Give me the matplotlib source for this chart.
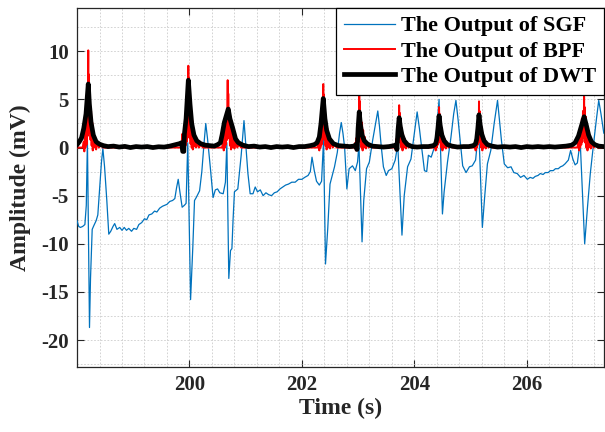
import matplotlib
matplotlib.use("Agg")
import matplotlib.pyplot as plt
from matplotlib.ticker import MultipleLocator

plt.rcParams['font.family'] = ['Liberation Serif', 'DejaVu Serif']
plt.rcParams['font.weight'] = 'bold'
plt.rcParams['axes.unicode_minus'] = False

# ---- data ----
sgf_t = [198.00, 198.03, 198.06, 198.10, 198.14, 198.165, 198.185, 198.222, 198.24, 198.27,
         198.30, 198.34, 198.37, 198.40, 198.435, 198.46, 198.49, 198.53, 198.565, 198.60,
         198.64, 198.67, 198.71, 198.76, 198.80, 198.84, 198.88, 198.92, 198.97, 199.01,
         199.06, 199.10, 199.15, 199.20, 199.24, 199.28, 199.33, 199.38, 199.42, 199.47,
         199.52, 199.56, 199.60, 199.65, 199.70, 199.74, 199.77, 199.80, 199.83, 199.87,
         199.91, 199.94, 199.97, 200.02, 200.06, 200.09, 200.12, 200.18, 200.22, 200.26,
         200.29, 200.32, 200.37, 200.42, 200.46, 200.50, 200.54, 200.60, 200.64, 200.665,
         200.70, 200.73, 200.755, 200.775, 200.80, 200.86, 200.92, 200.97, 201.00, 201.04,
         201.08, 201.13, 201.17, 201.21, 201.26, 201.31, 201.36, 201.41, 201.46, 201.51,
         201.56, 201.61, 201.66, 201.71, 201.76, 201.82, 201.88, 201.94, 202.00, 202.05,
         202.11, 202.15, 202.18, 202.22, 202.26, 202.31, 202.35, 202.385, 202.42, 202.46,
         202.50, 202.54, 202.58, 202.63, 202.67, 202.70, 202.73, 202.76, 202.80, 202.84,
         202.90, 202.95, 202.99, 203.015, 203.07, 203.10, 203.15, 203.20, 203.26, 203.31,
         203.35, 203.38, 203.41, 203.45, 203.50, 203.54, 203.60, 203.66, 203.705, 203.78,
         203.82, 203.88, 203.94, 203.99, 204.05, 204.09, 204.12, 204.18, 204.22, 204.25,
         204.30, 204.35, 204.40, 204.44, 204.50, 204.53, 204.59, 204.65, 204.70, 204.74,
         204.78, 204.82, 204.86, 204.92, 204.98, 205.03, 205.09, 205.145, 205.21, 205.25,
         205.30, 205.36, 205.42, 205.48, 205.52, 205.55, 205.60, 205.66, 205.72, 205.77,
         205.83, 205.89, 205.95, 206.01, 206.06, 206.11, 206.15, 206.20, 206.24, 206.29,
         206.33, 206.38, 206.42, 206.47, 206.51, 206.56, 206.60, 206.64, 206.68, 206.74,
         206.78, 206.82, 206.86, 206.90, 206.95, 207.03, 207.08, 207.13, 207.19, 207.24,
         207.28, 207.32, 207.37]
sgf_v = [-7.6, -8.2, -8.3, -8.2, -8.0, -6.0, 0.8, -18.7, -13.6, -8.5,
         -8.1, -7.6, -7.0, -4.5, -1.5, -0.1, -2.0, -5.5, -9.0, -8.7,
         -8.2, -7.9, -8.5, -8.3, -8.6, -8.3, -8.6, -8.4, -8.7, -8.4,
         -8.5, -8.0, -7.8, -7.4, -7.5, -7.0, -6.9, -6.6, -6.7, -6.3,
         -6.1, -6.0, -5.9, -5.6, -5.5, -5.3, -4.2, -3.3, -4.6, -6.2,
         -6.0, -5.8, 0.5, -15.8, -10.3, -5.5, -5.2, -4.5, -2.5, 0.5,
         2.5, 1.0, -2.0, -5.2, -4.4, -4.3, -4.7, -4.8, -3.6, 0.5,
         -13.6, -10.7, -10.5, -7.6, -4.6, -4.3, -0.8, 2.8, 0.5, -2.7,
         -4.8, -4.8, -4.1, -4.6, -4.4, -5.0, -4.7, -4.9, -5.0, -4.7,
         -4.6, -4.3, -4.1, -3.9, -3.8, -3.6, -3.6, -3.3, -3.3, -3.1,
         -2.9, -2.5, -1.0, -2.4, -3.5, -3.9, -3.5, 0.8, -12.1, -8.4,
         -3.8, -2.9, -2.0, -0.5, 1.5, 2.6, 1.5, 0.0, -4.3, -2.2,
         -1.9, -2.4, -1.5, 0.3, -9.8, -5.5, -2.2, -1.5, 0.8, 2.5,
         3.8, 2.2, 0.2, -2.0, -2.9, -2.4, -2.2, -1.3, 0.3, -9.1,
         -5.0, -2.0, -1.2, 1.0, 3.7, 2.0, 0.5, -2.4, -2.5, -0.8,
         -1.0, -0.1, 2.0, 5.0, -6.9, -4.6, -1.5, 1.0, 3.5, 4.9,
         2.8, 0.5, -1.9, -2.6, -2.0, -1.9, -1.3, 2.0, -8.3, -5.2,
         -1.7, -0.3, 2.5, 4.9, 2.5, 0.7, -1.7, -2.1, -2.0, -2.6,
         -2.7, -3.1, -2.9, -3.3, -3.1, -3.2, -3.0, -2.9, -2.7, -2.8,
         -2.6, -2.6, -2.4, -2.4, -2.2, -2.2, -2.0, -1.9, -1.7, -1.3,
         -0.3, -1.2, -1.8, -1.6, 0.7, -10.0, -6.2, -2.7, 0.5, 3.0,
         4.9, 3.5, 1.5]

bpf_t = [198.00, 198.10, 198.12, 198.13, 198.14, 198.15, 198.16, 198.17, 198.18, 198.19,
         198.20, 198.205, 198.21, 198.22, 198.23, 198.24, 198.25, 198.26, 198.27, 198.28,
         198.29, 198.30, 198.32, 198.34, 198.36, 198.39, 198.42, 198.46,
         199.86, 199.87, 199.88, 199.90, 199.91, 199.92, 199.93, 199.94, 199.95, 199.96,
         199.97, 199.98, 199.985, 199.99, 200.00, 200.01, 200.02, 200.03, 200.04, 200.05,
         200.06, 200.07, 200.08, 200.10, 200.12, 200.14, 200.17, 200.20, 200.24,
         200.58, 200.60, 200.61, 200.62, 200.63, 200.64, 200.65, 200.66, 200.67, 200.68,
         200.685, 200.69, 200.70, 200.71, 200.72, 200.73, 200.74, 200.75, 200.76, 200.78,
         200.80, 200.82, 200.85, 200.88, 200.92,
         202.28, 202.30, 202.31, 202.32, 202.33, 202.34, 202.35, 202.36, 202.37, 202.38,
         202.385, 202.39, 202.40, 202.41, 202.42, 202.43, 202.44, 202.45, 202.46, 202.48,
         202.50, 202.52, 202.55, 202.58, 202.62,
         202.93, 202.95, 202.96, 202.97, 202.98, 202.99, 203.00, 203.01, 203.015, 203.02,
         203.025, 203.03, 203.04, 203.05, 203.06, 203.07, 203.08, 203.09, 203.10, 203.12,
         203.14, 203.16, 203.19, 203.22, 203.26,
         203.64, 203.66, 203.67, 203.68, 203.69, 203.70, 203.71, 203.72, 203.725, 203.73,
         203.735, 203.74, 203.75, 203.76, 203.77, 203.78, 203.79, 203.80, 203.81, 203.83,
         203.85, 203.87, 203.90, 203.93, 203.97,
         204.35, 204.37, 204.38, 204.39, 204.40, 204.41, 204.42, 204.43, 204.435, 204.44,
         204.445, 204.45, 204.46, 204.47, 204.48, 204.49, 204.50, 204.51, 204.52, 204.54,
         204.56, 204.58, 204.61, 204.64, 204.68,
         205.06, 205.08, 205.09, 205.10, 205.11, 205.12, 205.13, 205.14, 205.145, 205.15,
         205.155, 205.16, 205.17, 205.18, 205.19, 205.20, 205.21, 205.22, 205.23, 205.25,
         205.27, 205.29, 205.32, 205.35, 205.39,
         206.90, 206.92, 206.93, 206.94, 206.95, 206.96, 206.97, 206.98, 206.99, 207.00,
         207.01, 207.02, 207.025, 207.03, 207.04, 207.05, 207.06, 207.07, 207.08, 207.09,
         207.10, 207.12, 207.14, 207.16, 207.19, 207.22, 207.26, 207.37]
bpf_v = [0.0, 0.0, 0.6, -0.4, 1.5, 0.0, 2.8, 0.3, 4.8, 1.2,
         10.1, 3.0, 7.6, 1.5, 5.0, 0.8, 3.8, 0.2, 2.6, -0.3,
         1.5, 0.0, 0.8, -0.2, 0.5, 0.0, 0.3, 0.0,
         0.0, 1.4, -0.3, 0.8, -0.5, 2.0, 0.2, 3.5, 0.6, 5.0,
         1.5, 8.5, 4.0, 7.2, 1.0, 4.8, 0.4, 3.6, 0.0, 2.8,
         -0.2, 2.0, 0.1, 1.2, 0.0, 0.6, 0.0, 0.3, 0.0,
         0.0, 0.7, -0.3, 1.2, 0.0, 2.0, 0.3, 3.2, 0.8, 7.0,
         2.5, 5.6, 1.0, 3.8, 0.2, 3.0, -0.2, 2.3, 0.0, 1.5,
         -0.1, 0.8, 0.0, 0.3, 0.0,
         0.0, 0.6, -0.3, 1.0, 0.0, 2.0, 0.3, 3.5, 0.8, 6.6,
         2.0, 5.5, 0.8, 3.6, 0.2, 2.8, -0.2, 2.0, 0.0, 1.2,
         -0.1, 0.6, 0.0, 0.3, 0.0,
         0.0, 0.5, -0.3, 1.0, 0.0, 2.0, 0.4, 3.5, 1.0, 6.0,
         2.0, 4.8, 0.6, 3.4, 0.0, 2.6, -0.3, 1.8, 0.0, 1.1,
         -0.1, 0.5, 0.0, 0.2, 0.0,
         0.0, 0.4, -0.3, 0.9, 0.0, 1.6, 0.3, 2.8, 0.8, 4.4,
         1.5, 3.6, 0.5, 2.6, 0.0, 2.0, -0.3, 1.4, 0.0, 0.9,
         -0.1, 0.4, 0.0, 0.2, 0.0,
         0.0, 0.4, -0.3, 0.9, 0.0, 1.6, 0.3, 2.9, 0.8, 4.2,
         1.5, 3.5, 0.5, 2.6, 0.0, 2.0, -0.3, 1.4, 0.0, 0.9,
         -0.1, 0.4, 0.0, 0.2, 0.0,
         0.0, 0.4, -0.3, 1.0, 0.0, 1.8, 0.3, 3.0, 0.8, 4.8,
         1.5, 3.8, 0.5, 2.8, 0.0, 2.1, -0.3, 1.5, 0.0, 0.9,
         -0.1, 0.4, 0.0, 0.2, 0.0,
         0.0, 0.6, -0.3, 1.2, 0.0, 2.0, 0.3, 3.0, 0.6, 3.8,
         1.0, 5.3, 1.8, 4.2, 0.5, 3.2, 0.0, 2.4, -0.3, 1.6,
         0.0, 1.0, -0.1, 0.5, 0.0, 0.2, 0.0, 0.0]

dwt_t = [198.00, 198.04, 198.08, 198.12, 198.16, 198.20, 198.22, 198.25, 198.29, 198.34,
         198.40, 198.47, 198.55, 198.65, 198.75, 198.85, 198.95, 199.05, 199.15, 199.25,
         199.35, 199.45, 199.55, 199.65, 199.75, 199.82, 199.86, 199.88, 199.90, 199.91,
         199.94, 199.98, 200.01, 200.04, 200.08, 200.13, 200.20, 200.28, 200.36, 200.44,
         200.50, 200.55, 200.58, 200.62, 200.69, 200.72, 200.77, 200.82, 200.87, 200.95,
         201.05, 201.15, 201.25, 201.35, 201.45, 201.55, 201.65, 201.75, 201.85, 201.95,
         202.05, 202.15, 202.22, 202.27, 202.31, 202.34, 202.38, 202.41, 202.44, 202.49,
         202.56, 202.65, 202.75, 202.85, 202.93, 202.96, 202.98, 202.99, 203.00, 203.02,
         203.04, 203.07, 203.11, 203.17, 203.25, 203.35, 203.45, 203.55, 203.64, 203.68,
         203.69, 203.70, 203.71, 203.73, 203.75, 203.78, 203.82, 203.88, 203.96, 204.05,
         204.15, 204.25, 204.34, 204.38, 204.40, 204.42, 204.44, 204.46, 204.49, 204.53,
         204.59, 204.67, 204.77, 204.87, 204.97, 205.05, 205.09, 205.11, 205.13, 205.15,
         205.17, 205.20, 205.24, 205.30, 205.38, 205.48, 205.60, 205.70, 205.80, 205.90,
         206.00, 206.10, 206.20, 206.30, 206.40, 206.50, 206.60, 206.70, 206.80, 206.86,
         206.92, 206.97, 207.02, 207.06, 207.10, 207.15, 207.21, 207.28, 207.37]
dwt_v = [0.3, 0.6, 1.0, 2.0, 3.5, 6.6, 4.5, 2.6, 1.3, 0.6,
         0.35, 0.2, 0.1, 0.15, 0.05, 0.12, 0.0, 0.1, 0.05, 0.1,
         0.0, 0.08, 0.05, 0.15, 0.3, 0.4, 0.5, -0.4, -0.4, 1.4,
         3.0, 7.0, 4.5, 2.5, 1.3, 0.7, 0.4, 0.25, 0.2, 0.15,
         0.3, 0.5, 1.3, 2.6, 4.0, 3.0, 2.0, 0.9, 0.5, 0.25,
         0.1, 0.15, 0.05, 0.1, 0.0, 0.1, 0.05, 0.1, 0.0, 0.1,
         0.1, 0.2, 0.3, 0.5, 1.1, 2.5, 5.1, 3.0, 1.8, 0.9,
         0.4, 0.2, 0.15, 0.1, 0.15, 0.3, -0.2, 0.6, 2.0, 3.7,
         2.4, 1.3, 0.7, 0.35, 0.15, 0.1, 0.05, 0.1, 0.2, 0.3,
         -0.2, 0.8, 1.8, 3.1, 2.2, 1.3, 0.7, 0.3, 0.1, 0.05,
         0.1, 0.1, 0.2, 0.4, 0.9, 2.0, 3.3, 2.3, 1.3, 0.7,
         0.3, 0.15, 0.05, 0.1, 0.1, 0.2, 0.4, 0.9, 2.0, 3.4,
         2.4, 1.4, 0.7, 0.3, 0.15, 0.05, 0.1, 0.05, 0.1, 0.0,
         0.1, 0.05, 0.1, 0.05, 0.1, 0.05, 0.1, 0.15, 0.25, 0.5,
         1.2, 2.2, 3.2, 2.3, 1.3, 0.6, 0.3, 0.15, 0.1]

labels = ['The Output of SGF', 'The Output of BPF', 'The Output of DWT']
x_ticks = [200, 202, 204, 206]
y_ticks = [-20, -15, -10, -5, 0, 5, 10]

# ---- figure ----
fig = plt.figure(figsize=(6.05, 4.32), dpi=100)
ax = fig.add_axes([0.1273, 0.1505, 0.8707, 0.831])

ax.plot(sgf_t, sgf_v, color='#0072BD', lw=0.9, label=labels[0], zorder=3)
ax.plot(bpf_t, bpf_v, color='#FF0000', lw=1.4, label=labels[1], zorder=4)
ax.plot(dwt_t, dwt_v, color='black', lw=3.4, label=labels[2], zorder=5)

ax.set_xlim(198.0, 207.37)
ax.set_ylim(-22.8, 14.5)
ax.set_xticks(x_ticks)
ax.set_yticks(y_ticks)
ax.xaxis.set_minor_locator(MultipleLocator(0.4))
ax.yaxis.set_minor_locator(MultipleLocator(2.5))

ax.grid(which='both', color='#cccccc', linestyle=(0, (2, 2)), linewidth=0.6, zorder=0)
ax.set_axisbelow(True)

ax.tick_params(which='major', direction='in', length=5, width=0.8, top=True, right=True,
               labelsize=15, colors='#262626', pad=6)
ax.tick_params(which='minor', length=0, top=True, right=True)
for lab in ax.get_xticklabels() + ax.get_yticklabels():
    lab.set_fontweight('bold')
for sp in ax.spines.values():
    sp.set_color('#262626')
    sp.set_linewidth(0.9)

ax.set_xlabel('Time (s)', fontsize=17, fontweight='bold', color='#262626', labelpad=2)
ax.set_ylabel('Amplitude (mV)', fontsize=17, fontweight='bold', color='#262626', labelpad=7)

leg = ax.legend(loc='upper right', bbox_to_anchor=(1.0, 1.0), borderaxespad=0.0,
                fancybox=False, framealpha=1.0, edgecolor='black',
                prop={'family': 'Liberation Serif', 'weight': 'bold', 'size': 16},
                handlelength=2.3, handletextpad=0.25, labelspacing=0.22,
                borderpad=0.35)
leg.get_frame().set_linewidth(0.9)
leg.set_zorder(10)

fig.savefig('out.png', dpi=100)
